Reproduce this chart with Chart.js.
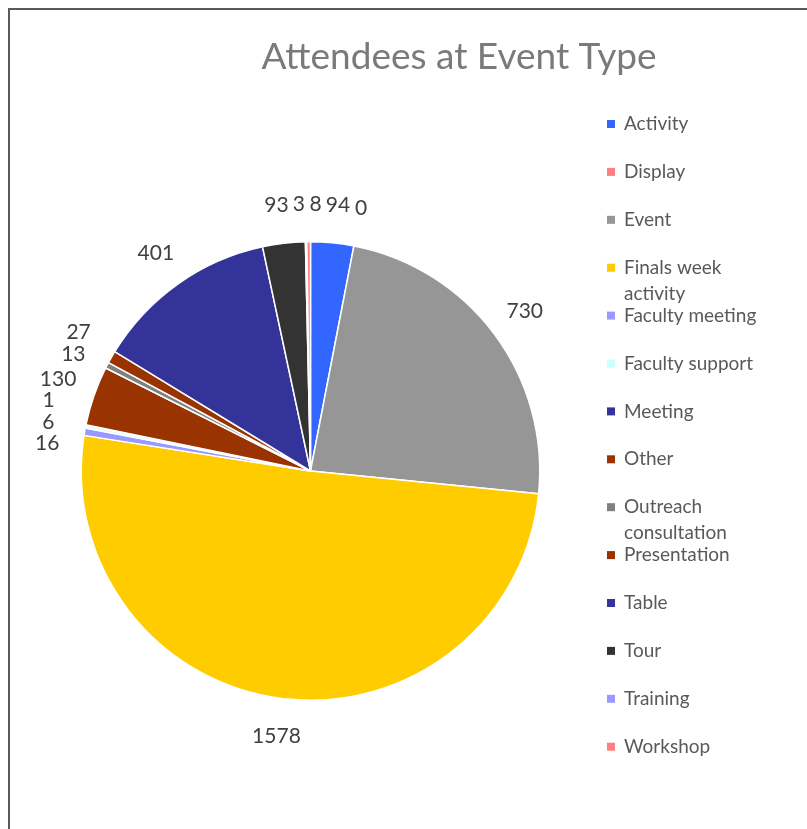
<!DOCTYPE html>
<html>
<head>
<meta charset="utf-8">
<script src="https://cdn.jsdelivr.net/npm/chart.js@4.4.1/dist/chart.umd.min.js"></script>
<style>
    html, body { margin: 0; padding: 0; background: #fff; overflow: hidden; }
    #frame { position: absolute; left: 8px; top: 8px; width: 1000px; height: 1000px;
             border-left: 2px solid #5a5a5a; border-top: 2px solid #5a5a5a; }
    #wrap { position: absolute; left: 0; top: 0; width: 807px; height: 829px; }
</style>
</head>
<body>
<div id="frame"></div>
<div id="wrap"><canvas id="myChart"></canvas></div>
<script>
const chartTitle = 'Attendees at Event Type';
const categories = [
    'Activity', 'Display', 'Event', 'Finals week activity', 'Faculty meeting',
    'Faculty support', 'Meeting', 'Other', 'Outreach consultation', 'Presentation',
    'Table', 'Tour', 'Training', 'Workshop'
];
const attendees = [94, 0, 730, 1578, 16, 6, 1, 130, 13, 27, 401, 93, 3, 8];
const sliceColors = [
    '#3366ff', '#ff8080', '#969696', '#ffcc00', '#9999ff',
    '#ccffff', '#333399', '#993300', '#808080', '#993300',
    '#333399', '#333333', '#9999ff', '#ff8080'
];

const FONT = 'Lato, "Open Sans", sans-serif';

function wrapText(ctx, text, maxW) {
    const words = text.split(' ');
    const lines = [];
    let cur = '';
    words.forEach(w => {
        const t = cur ? cur + ' ' + w : w;
        if (cur && ctx.measureText(t).width > maxW) {
            lines.push(cur);
            cur = w;
        } else {
            cur = t;
        }
    });
    if (cur) lines.push(cur);
    return lines;
}

// title, legend and value labels drawn the way the spreadsheet did it
const excelDecor = {
    id: 'excelDecor',
    afterDraw(chart) {
        const ctx = chart.ctx;
        ctx.save();

        // title
        ctx.fillStyle = '#7a7a7a';
        ctx.font = '37px ' + FONT;
        ctx.textAlign = 'center';
        ctx.textBaseline = 'middle';
        ctx.fillText(chartTitle, 459, 57);

        // legend
        ctx.font = '19px ' + FONT;
        ctx.textAlign = 'left';
        const rowStep = 47.9;
        categories.forEach((name, i) => {
            const y = 124 + i * rowStep;
            ctx.fillStyle = sliceColors[i];
            ctx.fillRect(607, y - 4, 8, 8);
            ctx.fillStyle = '#595959';
            wrapText(ctx, name, 150).forEach((ln, k) => {
                ctx.fillText(ln, 624, y + k * 26);
            });
        });

        // value labels outside the slices
        const meta = chart.getDatasetMeta(0);
        ctx.font = '21px ' + FONT;
        const boxes = meta.data.map((arc, i) => {
            const a = (arc.startAngle + arc.endAngle) / 2;
            const r = arc.outerRadius + 38;
            const txt = String(attendees[i]);
            const x = arc.x + Math.cos(a) * r;
            const y = arc.y + Math.sin(a) * r;
            return { txt, a, x, y, x0: x, y0: y, w: ctx.measureText(txt).width + 4, h: 21 };
        });
        // push overlapping labels apart, keeping their original order
        for (let it = 0; it < 300; it++) {
            let moved = false;
            for (let i = 0; i < boxes.length; i++) {
                for (let j = i + 1; j < boxes.length; j++) {
                    const p = boxes[i], q = boxes[j];
                    const ox = (p.w + q.w) / 2 - Math.abs(p.x - q.x);
                    const oy = (p.h + q.h) / 2 - Math.abs(p.y - q.y);
                    if (ox > 0 && oy > 0) {
                        moved = true;
                        const side = Math.abs(Math.cos((p.a + q.a) / 2)) > 0.6;
                        if (side) {
                            const gap = (p.h + q.h) / 2 + 0.5;
                            const mid = (p.y + q.y) / 2;
                            const d = p.y0 <= q.y0 ? -1 : 1;
                            p.y = mid + d * gap / 2; q.y = mid - d * gap / 2;
                        } else {
                            const gap = (p.w + q.w) / 2 + 0.5;
                            const mid = (p.x + q.x) / 2;
                            const d = p.x0 <= q.x0 ? -1 : 1;
                            p.x = mid + d * gap / 2; q.x = mid - d * gap / 2;
                        }
                    }
                }
            }
            if (!moved) break;
        }
        ctx.fillStyle = '#404040';
        ctx.textAlign = 'center';
        boxes.forEach(b => ctx.fillText(b.txt, b.x, b.y));

        ctx.restore();
    }
};

const ctxl = document.getElementById('myChart').getContext('2d');
new Chart(ctxl, {
    type: 'pie',
    data: {
        labels: categories,
        datasets: [{
            data: attendees,
            backgroundColor: sliceColors,
            borderColor: '#ffffff',
            borderWidth: 1.5
        }]
    },
    options: {
        responsive: true,
        maintainAspectRatio: false,
        animation: false,
        layout: { padding: { left: 80, top: 241, right: 266, bottom: 128 } },
        plugins: {
            legend: { display: false },
            tooltip: { enabled: false },
            title: { display: false }
        }
    },
    plugins: [excelDecor]
});
</script>
</body>
</html>
